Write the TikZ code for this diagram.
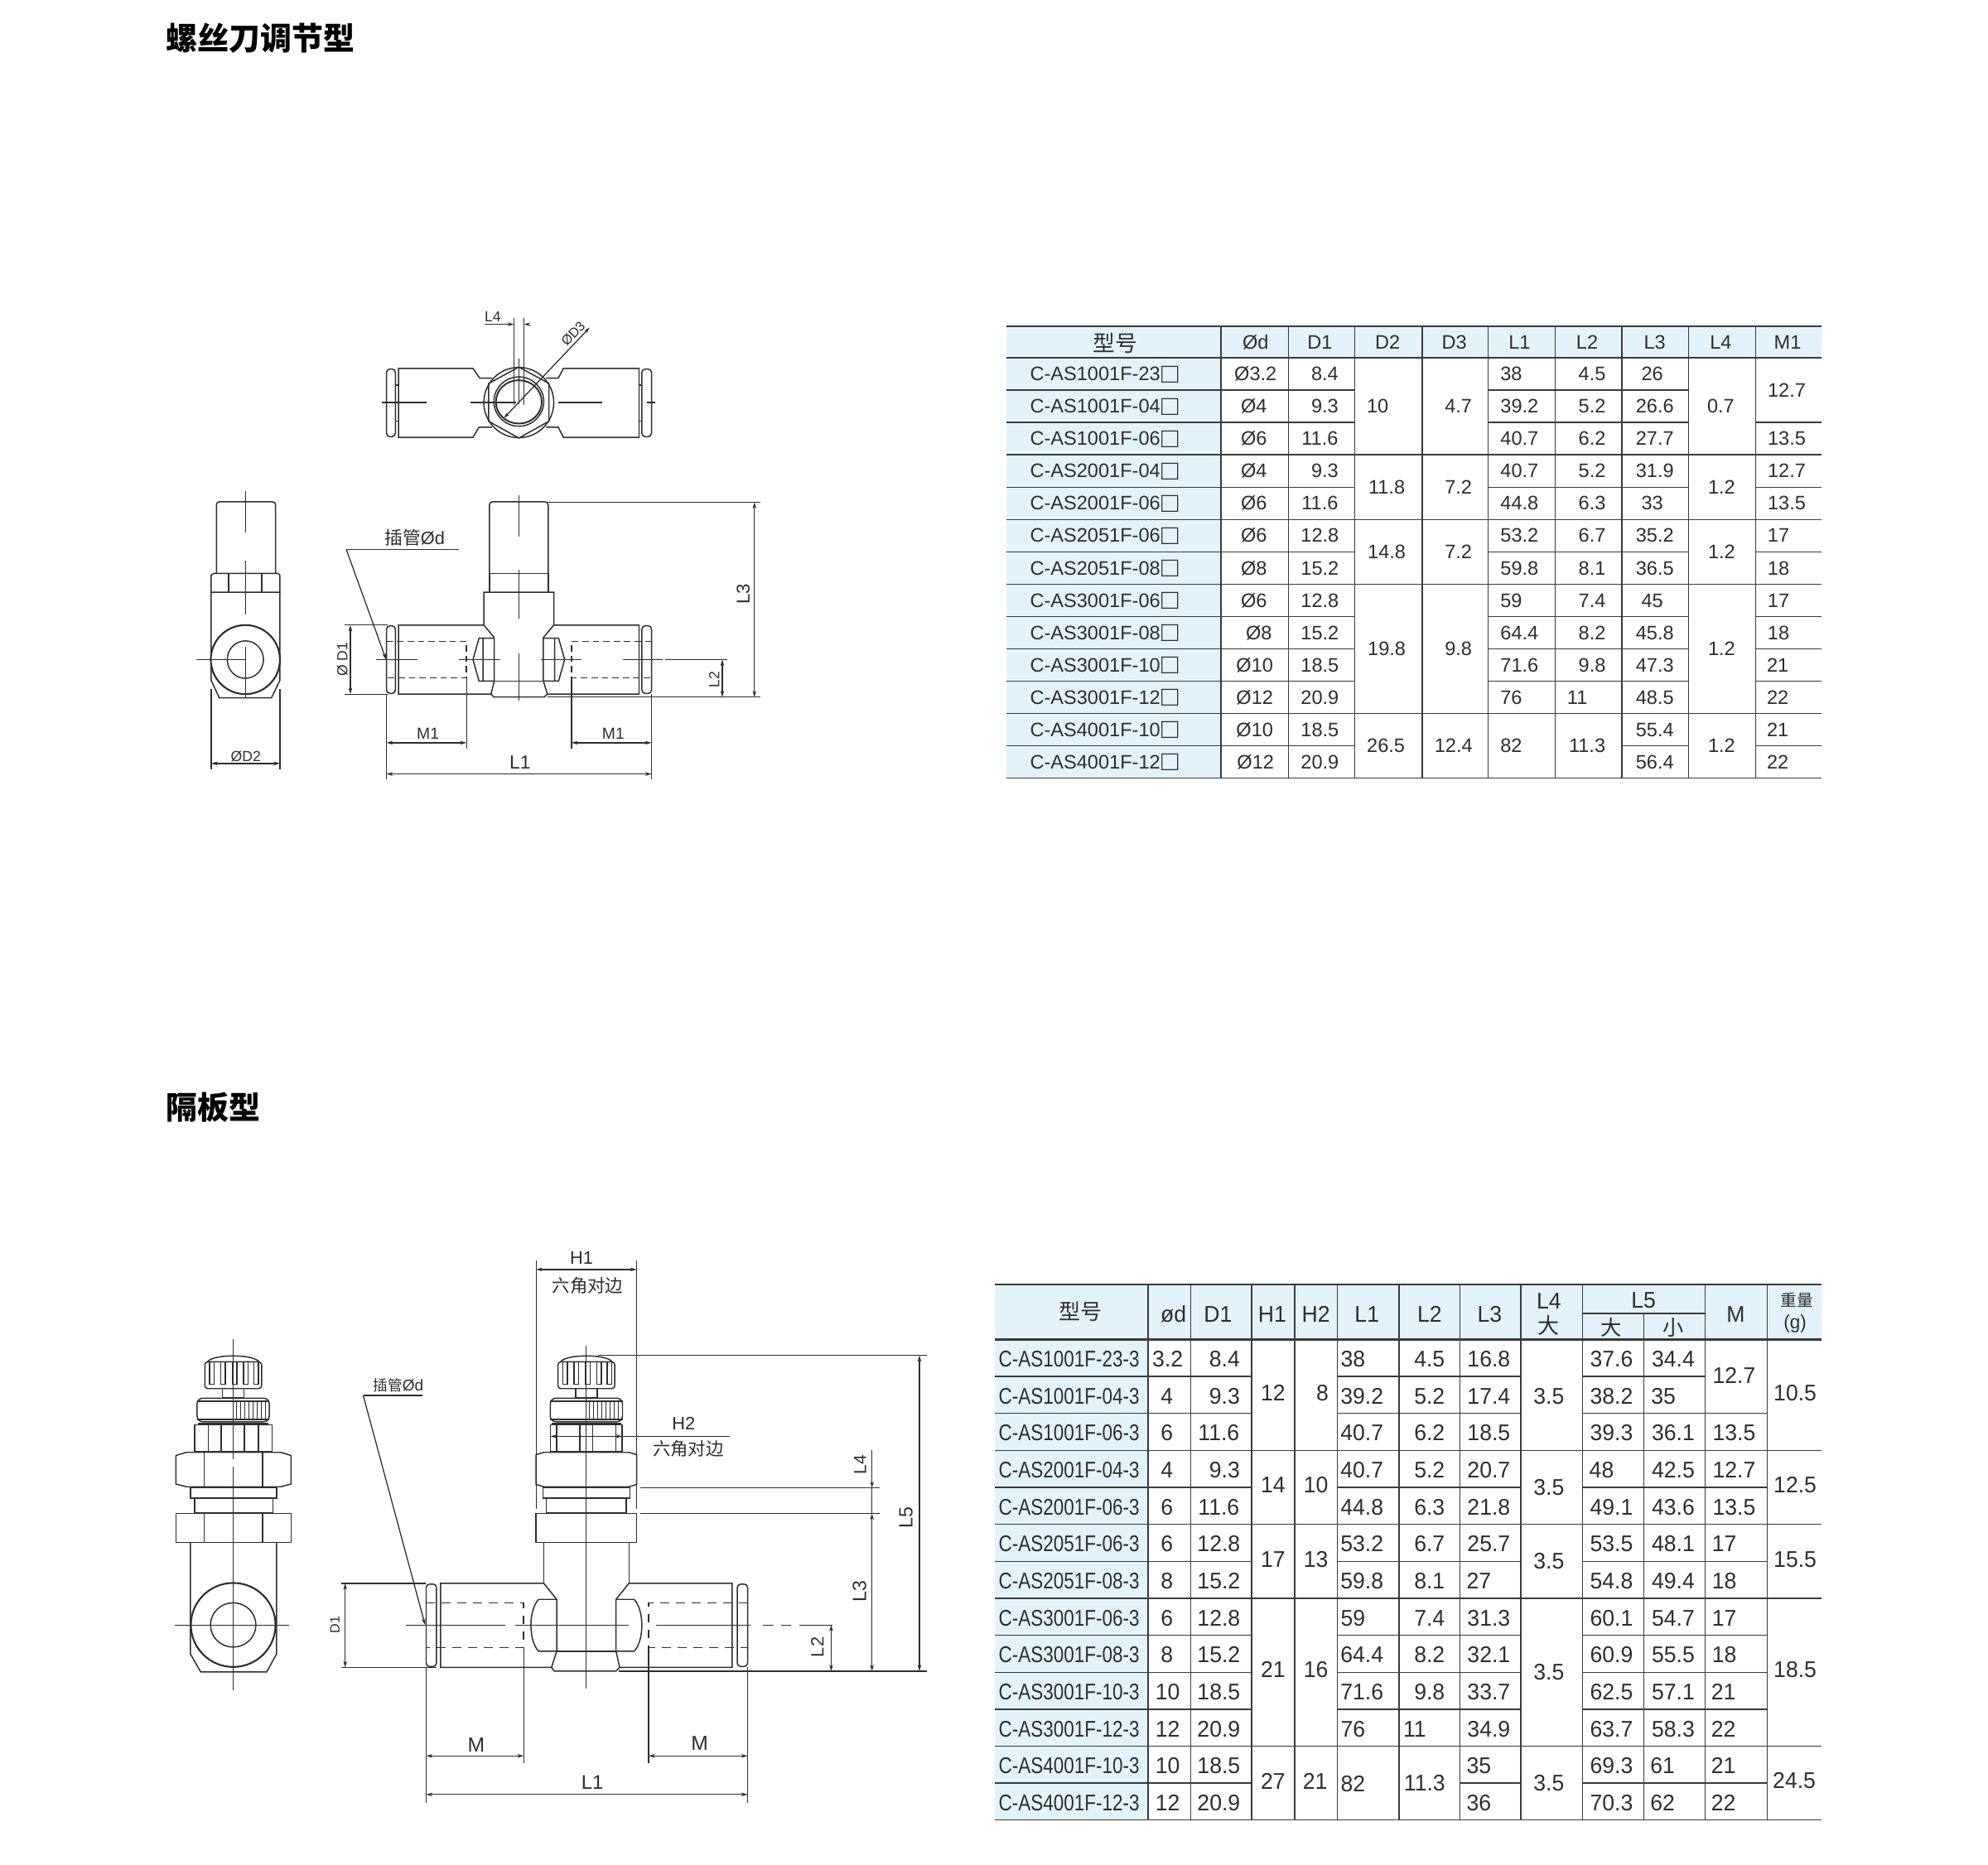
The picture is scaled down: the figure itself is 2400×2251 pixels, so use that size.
\documentclass[tikz,border=0pt]{standalone}
\usepackage{fontspec}
\usetikzlibrary{arrows.meta}
\setmainfont{Liberation Sans}
\newfontfamily\cjk{Noto Sans CJK SC}
\newfontfamily\narrowf[FakeStretch=0.82]{Liberation Sans}
\newfontfamily\numf[FakeStretch=0.97]{Liberation Sans}
\definecolor{hdr}{HTML}{E3F3FB}
\definecolor{ink}{HTML}{2E2E2E}
\definecolor{tl}{HTML}{3A3A3A}
\tikzset{
 dl/.style={draw=ink,line width=0.42pt},
 cl/.style={draw=ink,line width=0.36pt},
 dm/.style={draw=ink,line width=0.36pt},
 dimarr/.style={draw=ink,line width=0.36pt,{Stealth[length=2.2pt,width=1.3pt]}-{Stealth[length=2.2pt,width=1.3pt]}},
 onearr/.style={draw=ink,line width=0.36pt,-{Stealth[length=2.2pt,width=1.3pt]}},
 dsh/.style={draw=ink,line width=0.42pt,dash pattern=on 2.2pt off 1.4pt},
 dshb/.style={draw=ink,line width=0.42pt,dash pattern=on 3pt off 2.4pt},
 tx/.style={inner sep=0pt,text=ink},
 tca/.style={inner sep=0pt,text=ink,font=\fontsize{6.7}{7}\selectfont,text height=4.8pt,text depth=0pt},
 tcb/.style={inner sep=0pt,text=ink,font=\numf\fontsize{7.8}{8}\selectfont,text height=5.6pt,text depth=0pt},
 tcm/.style={inner sep=0pt,text=ink,font=\narrowf\fontsize{7.8}{8}\selectfont,text height=5.6pt,text depth=0pt},
 tline/.style={draw=tl,line width=0.4pt},
 tthick/.style={draw=tl,line width=0.75pt},
}
\newcommand\colA[2]{\foreach \r/\x/\t in {#2} \node[tca] (ta#1-\r) at (\x,{432+39.1*(\r-.5)}) {\t};}
\newcommand\colB[2]{\foreach \r/\x/\t in {#2} \node[tcb] (tb#1-\r) at (\x,{1618.6+44.7*(\r-.5)}) {\t};}
\newcommand\bigbox{\kern0.4pt\raisebox{-0.7pt}{\fontsize{9.6}{9}\selectfont □}}
\newcommand\knobpart[1]{\begin{scope}[shift={(#1,0)}]
 \draw[dl,rounded corners=1pt] (-55,335) rectangle (55,405);
 \draw[dl] (-50,335) .. controls (-40,314) and (40,314) .. (50,335);
 \foreach \s in {-46,-24,-2,20,40} \draw[dl] (\s,337) -- (\s,394) -- (\s+9,394) -- (\s+9,337);
 \draw[dl] (-21,405) rectangle (21,428);
 \draw[dl,rounded corners=2pt] (-70,430) rectangle (70,492);
 \draw[dl] (-70,438) -- (70,438) (-70,486) -- (70,486) (-68,497) -- (68,497);
 \foreach \h in {6,14,...,62} \draw[cl] (\h,438) -- (\h,486);
\end{scope}}
\begin{document}
\begin{tikzpicture}[x=0.01cm,y=-0.01cm]
\useasboundingbox (0,0) rectangle (2400,2251);
\fill[white] (0,0) rectangle (2400,2251);
% titles
\node[tx,anchor=west,text=black,font=\cjk\bfseries\fontsize{10.8}{12}\selectfont] (t1) at (200,46) {螺丝刀调节型};
\node[tx,anchor=west,text=black,font=\cjk\bfseries\fontsize{10.8}{12}\selectfont] (t2) at (200,1337) {隔板型};

% ---------- TABLE 1
\begin{scope}[shift={(1215,394)},xscale=0.9958,yscale=0.998,shift={(-1215,-394)}]
\fill[hdr] (1215,394) rectangle (2203,432);
\fill[hdr] (1215,432) rectangle (1475,941);
\foreach \x in {1475,1557,1637,1719,1799,1880,1961,2042,2123} \draw[tline] (\x,394) -- (\x,941);
\draw[tthick] (1215,394) -- (2203,394);
\draw[tthick] (1215,432) -- (2203,432);
\foreach \y in {549.5,627.7,705.9,862.3,940.5} \draw[tline] (1215,\y) -- (2203,\y);
\foreach \y in {471.1,588.6,666.8,745,784.1,823.2} \draw[tline] (1215,\y) -- (1637,\y) (1799,\y) -- (2042,\y);
\draw[tline] (1215,510.2) -- (1637,510.2) (1799,510.2) -- (2042,510.2) (2123,510.2) -- (2203,510.2);
\foreach \y in {588.6,666.8,745,784.1,823.2} \draw[tline] (2123,\y) -- (2203,\y);
\draw[tline] (1215,901.4) -- (1637,901.4) (1961,901.4) -- (2042,901.4) (2123,901.4) -- (2203,901.4);
% table 1 header
\node[tx,font=\cjk\fontsize{7.6}{8}\selectfont] (ah0) at (1347,414) {型号};
\foreach \x/\t [count=\i] in {1517/Ød,1595/D1,1677/D2,1758/D3,1837/L1,1919/L2,2001/L3,2081/L4,2162/M1}
 \node[tca] (ah\i) at (\x,413) {\t};
\foreach \n [count=\r] in {1001F-23,1001F-04,1001F-06,2001F-04,2001F-06,2051F-06,2051F-08,3001F-06,3001F-08,3001F-10,3001F-12,4001F-10,4001F-12}
 \node[tca,anchor=west] (am\r) at (1243,{432+39.1*(\r-.5)}) {C-AS\n\bigbox};
\colA{d}{1/1517/Ø3.2,2/1515/Ø4,3/1515/Ø6,4/1515/Ø4,5/1515/Ø6,6/1515/Ø6,7/1515/Ø8,8/1515/Ø6,9/1521/Ø8,10/1516/Ø10,11/1516/Ø12,12/1516/Ø10,13/1517/Ø12}
\colA{e}{1/1601/8.4,2/1601/9.3,3/1595/11.6,4/1601/9.3,5/1595/11.6,6/1595/12.8,7/1595/15.2,8/1595/12.8,9/1595/15.2,10/1595/18.5,11/1595/20.9,12/1595/18.5,13/1595/20.9}
\colA{f}{2/1665/10,4.5/1676/11.8,6.5/1676/14.8,9.5/1676/19.8,12.5/1675/26.5}
\colA{g}{2/1763/4.7,4.5/1763/7.2,6.5/1763/7.2,9.5/1763/9.8,12.5/1757/12.4}
\colA{h}{1/1827/38,2/1837/39.2,3/1837/40.7,4/1837/40.7,5/1837/44.8,6/1837/53.2,7/1837/59.8,8/1827/59,9/1837/64.4,10/1837/71.6,11/1827/76,12.5/1827/82}
\colA{i}{1/1925/4.5,2/1925/5.2,3/1925/6.2,4/1925/5.2,5/1925/6.3,6/1925/6.7,7/1925/8.1,8/1925/7.4,9/1925/8.2,10/1925/9.8,11/1907/11,12.5/1919/11.3}
\colA{j}{1/1998/26,2/2001/26.6,3/2001/27.7,4/2001/31.9,5/1998/33,6/2001/35.2,7/2001/36.5,8/1998/45,9/2001/45.8,10/2001/47.3,11/2001/48.5,12/2001/55.4,13/2001/56.4}
\colA{k}{2/2081/0.7,4.5/2082/1.2,6.5/2082/1.2,9.5/2082/1.2,12.5/2082/1.2}
\colA{l}{1.5/2161/12.7,3/2161/13.5,4/2161/12.7,5/2161/13.5,6/2151/17,7/2151/18,8/2151/17,9/2151/18,10/2150/21,11/2150/22,12/2150/21,13/2150/22}
\end{scope}

% ---------- TABLE 2
\begin{scope}[shift={(1201,1551)},xscale=0.9939,yscale=0.9985,shift={(-1201,-1551)}]
\fill[hdr] (1201,1551) rectangle (2205,1617.6);
\fill[hdr] (1201,1617.6) rectangle (1387,2199);
\foreach \x in {1387,1439,1513,1565,1617,1692,1766,1840,1915,2064,2139} \draw[tline] (\x,1551) -- (\x,2199);
\draw[tline] (1989,1586) -- (1989,2199);
\draw[tline] (1915,1586) -- (2064,1586);
\draw[tthick] (1201,1551) -- (2205,1551);
\draw[tthick] (1201,1617.6) -- (2205,1617.6);
\foreach \y in {1751.7,1841.1,1930.5,2109.3,2198.7} \draw[tline] (1201,\y) -- (2205,\y);
\foreach \y in {1662.3,1707,1796.4,1885.8,1975.2,2019.9,2064.6}
 \draw[tline] (1201,\y) -- (1513,\y) (1617,\y) -- (1840,\y);
\draw[tline] (1915,1662.3) -- (2064,1662.3);
\foreach \y in {1707,1796.4,1885.8,1975.2,2019.9,2064.6} \draw[tline] (1915,\y) -- (2139,\y);
\draw[tline] (1201,2154) -- (1513,2154) (1766,2154) -- (1840,2154) (1915,2154) -- (2139,2154);
% table 2 header
\node[tx,font=\cjk\fontsize{7.4}{8}\selectfont] (bh0) at (1305,1584) {型号};
\foreach \x/\t [count=\i] in {1418/ød,1472/D1,1538/H1,1591/H2,1653/L1,1729/L2,1802/L3,2101/M}
 \node[tcb] (bh\i) at (\x,1587) {\t};
\node[tcb] (bh9) at (1874,1571) {L4};
\node[tx,font=\cjk\fontsize{7.4}{8}\selectfont] (bh10) at (1874,1601) {大};
\node[tcb] (bh11) at (1989,1570) {L5};
\node[tx,font=\cjk\fontsize{7.2}{8}\selectfont] (bh12) at (1950,1603) {大};
\node[tx,font=\cjk\fontsize{7.2}{8}\selectfont] (bh13) at (2025,1603) {小};
\node[tx,font=\cjk\fontsize{5.6}{6}\selectfont] (bh14) at (2175,1570) {重量};
\node[tx,font=\numf\fontsize{6.6}{7}\selectfont] (bh15) at (2173,1599) {(g)};
\foreach \n [count=\r] in {1001F-23,1001F-04,1001F-06,2001F-04,2001F-06,2051F-06,2051F-08,3001F-06,3001F-08,3001F-10,3001F-12,4001F-10,4001F-12}
 \node[tcm,anchor=west] (bm\r) at (1205,{1618.6+44.7*(\r-.5)}) {C-AS\n-3};
\colB{d}{1/1411/3.2,2/1410/4,3/1410/6,4/1410/4,5/1410/6,6/1410/6,7/1410/8,8/1410/6,9/1410/8,10/1411/10,11/1411/12,12/1411/10,13/1411/12}
\colB{e}{1/1480/8.4,2/1480/9.3,3/1473/11.6,4/1480/9.3,5/1473/11.6,6/1473/12.8,7/1473/15.2,8/1473/12.8,9/1473/15.2,10/1473/18.5,11/1473/20.9,12/1473/18.5,13/1473/20.9}
\colB{f}{1.92/1539/12,4.4/1539/14,6.42/1539/17,9.4/1539/21,12.42/1539/27}
\colB{g}{1.92/1599/8,4.4/1591/10,6.42/1591/13,9.4/1591/16,12.42/1590/21}
\colB{h}{1/1636/38,2/1647/39.2,3/1647/40.7,4/1647/40.7,5/1647/44.8,6/1647/53.2,7/1647/59.8,8/1636/59,9/1647/64.4,10/1647/71.6,11/1636/76,12.5/1636/82}
\colB{i}{1/1729/4.5,2/1729/5.2,3/1729/6.2,4/1729/5.2,5/1729/6.3,6/1729/6.7,7/1729/8.1,8/1729/7.4,9/1729/8.2,10/1729/9.8,11/1711/11,12.46/1723/11.3}
\colB{j}{1/1801/16.8,2/1801/17.4,3/1801/18.5,4/1801/20.7,5/1801/21.8,6/1801/25.7,7/1789/27,8/1801/31.3,9/1801/32.1,10/1801/33.7,11/1801/34.9,12/1789/35,13/1789/36}
\colB{k}{2/1874/3.5,4.46/1874/3.5,6.46/1874/3.5,9.46/1874/3.5,12.46/1874/3.5}
\colB{m}{1/1950/37.6,2/1950/38.2,3/1950/39.3,4/1938/48,5/1950/49.1,6/1950/53.5,7/1950/54.8,8/1950/60.1,9/1950/60.9,10/1950/62.5,11/1950/63.7,12/1950/69.3,13/1950/70.3}
\colB{n}{1/2025/34.4,2/2013/35,3/2025/36.1,4/2025/42.5,5/2025/43.6,6/2025/48.1,7/2025/49.4,8/2025/54.7,9/2025/55.5,10/2025/57.1,11/2025/58.3,12/2012/61,13/2012/62}
\colB{o}{1.45/2099/12.7,3/2099/13.5,4/2099/12.7,5/2099/13.5,6/2087/17,7/2087/18,8/2087/17,9/2087/18,10/2086/21,11/2086/22,12/2086/21,13/2086/22}
\colB{p}{1.92/2173/10.5,4.4/2173/12.5,6.42/2173/15.5,9.4/2173/18.5,12.4/2172/24.5}
\end{scope}

% ---------- DRAWING A (coordinates in zoom space)
\begin{scope}[shift={(220,340)},x=0.004852cm,y=-0.00396cm]
 % top view
 \draw[dl] (770,294) -- (740,294) -- (723,264) -- (538,264) -- (538,474) -- (723,474) -- (738,443) -- (770,443);
 \draw[dl] (905,294) -- (935,294) -- (948,264) -- (1136,264) -- (1136,474) -- (948,474) -- (935,443) -- (905,443);
 \draw[dl,rounded corners=1.2pt] (508,266) rectangle (530,472);
 \draw[dl,rounded corners=1.2pt] (1143,266) rectangle (1167,472);
 \draw[cl] (530,315) -- (538,315) (530,425) -- (538,425) (1136,315) -- (1143,315) (1136,425) -- (1143,425);
 \filldraw[dl,fill=white] (837,368) ellipse [x radius=87,y radius=107];
 \draw[dl] (837,260) -- (912,310) -- (912,425) -- (837,476) -- (762,425) -- (762,310) -- cycle;
 \draw[dl] (837,365) ellipse [x radius=62,y radius=75];
 \draw[dl,line width=0.55pt] (837,366) ellipse [x radius=57,y radius=66];
 \draw[cl] (497,368) -- (607,368) (717,368) -- (830,368) (935,368) -- (1045,368) (1155,368) -- (1177,368) (837,235) -- (837,372);
 \draw[cl] (825,110) -- (825,375) (850,110) -- (850,375);
 \draw[cl,{Stealth[length=2pt,width=1.2pt]}-{Stealth[length=2pt,width=1.2pt]}] (1013,140) -- (800,415);
 \draw[onearr] (752,130) -- (825,130);
 \draw[onearr] (858,130) -- (850,130);
 \node[tx,font=\fontsize{5}{6}\selectfont] (la4) at (772,108) {L4};
 \node[tx,font=\fontsize{4.6}{6}\selectfont,rotate=46] (lad3) at (972,158) {ØD3};
 % side view
 \draw[dl,rounded corners=1pt] (85,888) -- (85,670) -- (232,670) -- (232,888);
 \draw[dl] (78,888) -- (238,888) -- (243,893) -- (243,945) -- (72,945) -- (72,893) -- cycle;
 \draw[dl] (115,890) -- (115,945) (198,890) -- (198,945);
 \draw[dl] (72,945) -- (72,1213) -- (92,1266) -- (222,1266) -- (243,1213) -- (243,945);
 \filldraw[dl,fill=white,line width=0.6pt] (157,1150) ellipse [x radius=86,y radius=105];
 \draw[dl] (157,1150) ellipse [x radius=45,y radius=57];
 \draw[cl] (157,637) -- (157,763) (157,850) -- (157,1013) (157,1110) -- (157,1265) (35,1150) -- (157,1150);
 \draw[dm] (72,1240) -- (72,1485) (243,1240) -- (243,1485);
 \draw[dimarr] (72,1466) -- (243,1466);
 \node[tx,font=\fontsize{5}{6}\selectfont] (lad2) at (158,1445) {ØD2};
 % main view
 \draw[dl,rounded corners=1pt] (764,888) -- (764,670) -- (910,670) -- (910,888);
 \draw[dl] (764,888) -- (910,888) (764,888) -- (764,945) (910,888) -- (910,945);
 \draw[dl] (538,1045) -- (750,1045) -- (750,945) -- (924,945) -- (924,1045) -- (1136,1045) -- (1136,1255) -- (908,1255) -- (900,1264) -- (775,1264) -- (768,1255) -- (538,1255) -- cycle;
 \draw[dl] (750,1045) -- (776,1083) -- (776,1215) -- (768,1255) (924,1045) -- (898,1083) -- (898,1215) -- (908,1255);
 \draw[dl,rounded corners=1.2pt] (508,1047) rectangle (530,1253);
 \draw[dl,rounded corners=1.2pt] (1143,1047) rectangle (1167,1253);
 \draw[dsh] (508,1094) -- (707,1094) -- (707,1205) -- (508,1205);
 \draw[dsh] (1167,1094) -- (968,1094) -- (968,1205) -- (1167,1205);
 \draw[dl] (776,1085) -- (738,1085) -- (723,1150) -- (738,1215) -- (776,1215) (748,1085) -- (748,1215);
 \draw[dl] (898,1085) -- (936,1085) -- (951,1150) -- (936,1215) -- (898,1215) (926,1085) -- (926,1215);
 \draw[dl] (776,1215) -- (898,1215);
 \draw[cl] (483,1150) -- (585,1150) (687,1150) -- (790,1150) (892,1150) -- (993,1150) (1096,1150) -- (1195,1150) (1200,1150) -- (1355,1150);
 \draw[cl] (837,650) -- (837,775) (837,877) -- (837,1025) (837,1130) -- (837,1275);
 \draw[dm] (910,671.2) -- (1438,671.2) (908,1264) -- (1438,1264);
 \draw[dimarr] (1423,671.2) -- (1423,1264);
 \draw[dimarr] (1343,1150) -- (1343,1264);
 \draw[dm] (403,1045) -- (510,1045) (403,1255) -- (510,1255);
 \draw[dimarr] (418,1045) -- (418,1255);
 \draw[dm] (508,1255) -- (508,1515) (1167,1255) -- (1167,1515) (707,1205) -- (707,1420) (968,1205) -- (968,1420);
 \draw[dimarr] (508,1403) -- (707,1403);
 \draw[dimarr] (968,1403) -- (1167,1403);
 \draw[dimarr] (508,1498) -- (1167,1498);
 \coordinate (laa) at (408,815);
 \coordinate (lab) at (688,815);
 \coordinate (lac) at (507,1150);
 \draw[dm] (lab) -- (laa);
 \draw[onearr] (laa) -- (lac);
 \node[tx,font=\fontsize{6.3}{7}\selectfont,rotate=90] (la3) at (1395,950) {L3};
 \node[tx,font=\fontsize{5}{6}\selectfont,rotate=90] (la2) at (1323,1210) {L2};
 \node[tx,font=\fontsize{5}{6}\selectfont,rotate=90] (lad1) at (398,1150) {Ø D1};
 \node[tx,font=\fontsize{5.5}{6}\selectfont] (lam1) at (611,1376) {M1};
 \node[tx,font=\fontsize{5.5}{6}\selectfont] (lam2) at (1072,1374) {M1};
 \node[tx,font=\fontsize{6.5}{7}\selectfont] (la1) at (840,1463) {L1};
 \node[tx,font=\fontsize{6.2}{6}\selectfont] (lat) at (578,780) {{\cjk 插管}Ød};
\end{scope}

% ---------- DRAWING B
\begin{scope}[shift={(180,1490)},x=0.00623cm,y=-0.004615cm]
 % left view
 \knobpart{163}
 \draw[dl] (88,500) rectangle (238,570);
 \draw[dl] (115,500) -- (115,570) (140,500) -- (140,570) (185,500) -- (185,570) (212,500) -- (212,570);
 \draw[dl] (52,580) -- (72,572) -- (255,572) -- (275,580) -- (275,655) -- (255,662) -- (72,662) -- (52,655) -- cycle;
 \draw[dl] (107,572) -- (107,662) (220,572) -- (220,662);
 \draw[dl] (80,665) rectangle (247,692);
 \draw[dl] (88,692) rectangle (240,730);
 \draw[dl] (52,732) rectangle (275,808);
 \draw[dl] (107,732) -- (107,808) (220,732) -- (220,808);
 \draw[dl] (80,808) -- (80,1100) -- (100,1147) -- (228,1147) -- (247,1100) -- (247,808);
 \filldraw[dl,fill=white,line width=0.6pt] (163,1024) ellipse [x radius=82,y radius=110];
 \draw[dl] (163,1024) ellipse [x radius=44,y radius=58];
 \draw[cl] (163,275) -- (163,590) (163,610) -- (163,1195);
 \draw[cl] (50,1024) -- (272,1024);
 % main view
 \knobpart{847.5}
 \draw[dl] (778,500) rectangle (917,570);
 \draw[dl] (790,500) -- (790,570) (905,500) -- (905,570) (835,500) -- (835,570) (860,500) -- (860,570);
 \draw[dl] (750,578) -- (765,572) -- (930,572) -- (945,578) -- (945,656) -- (930,662) -- (765,662) -- (750,656) -- cycle;
 \draw[dl] (763,665) rectangle (932,692);
 \draw[dl] (770,692) rectangle (925,730);
 \draw[dl] (750,732) rectangle (945,808);
 \draw[dl] (765,808) -- (765,915) (930,808) -- (930,915);
 \draw[dl] (565,915) -- (1130,915) -- (1130,1135) -- (912,1135) -- (905,1145) -- (785,1145) -- (780,1135) -- (565,1135) -- cycle;
 \fill[white] (766,914) rectangle (929,925);
 \draw[dl] (765,915) -- (790,957) -- (790,1093) -- (780,1135) (930,915) -- (905,957) -- (905,1093) -- (912,1135);
 \draw[dl] (790,1093) -- (905,1093);
 \draw[dl,rounded corners=1.2pt] (537,917) rectangle (557,1133);
 \draw[dl,rounded corners=1.2pt] (1140,917) rectangle (1160,1133);
 \draw[dshb] (537,966) -- (726,966) -- (726,1083) -- (537,1083);
 \draw[dshb] (1160,966) -- (968,966) -- (968,1083) -- (1160,1083);
 \draw[dl] (790,957) -- (755,957) .. controls (735,985) and (735,1065) .. (755,1093) -- (790,1093);
 \draw[dl] (905,957) -- (940,957) .. controls (960,985) and (960,1065) .. (940,1093) -- (905,1093);
 \draw[cl] (497,1024) -- (690,1024) (710,1024) -- (930,1024) (983,1024) -- (1165,1024) (1190,1024) -- (1210,1024) (1225,1024) -- (1245,1024) (1260,1024) -- (1325,1024);
 \draw[cl] (847,293) -- (847,1190);
 % dimensions
 \draw[dm] (750,70) -- (750,720) (945,70) -- (945,720);
 \draw[dimarr] (750,93) -- (945,93);
 \draw[dm] (917,530) -- (1125,530);
 \draw[dimarr] (778,530) -- (917,530);
 \draw[dm] (870,318) -- (1508,318);
 \draw[dm,line width=0.55pt] (910,1145) -- (1508,1145);
 \draw[dimarr] (1493,318) -- (1493,1145);
 \draw[dm] (952,665) -- (1416,665);
 \draw[dm,line width=0.55pt] (952,732) -- (1416,732);
 \draw[onearr] (1401,565) -- (1401,665);
 \draw[dm] (1401,665) -- (1401,732);
 \draw[dimarr] (1401,732) -- (1401,1145);
 \draw[dimarr] (1322,1024) -- (1322,1145);
 \draw[dm] (373,915) -- (537,915) (373,1135) -- (557,1135);
 \draw[dimarr] (380,915) -- (380,1135);
 \draw[dm] (537,1135) -- (537,1490) (1160,1135) -- (1160,1490) (726,1083) -- (726,1385) (968,1083) -- (968,1385);
 \draw[dimarr] (537,1367) -- (726,1367);
 \draw[dimarr] (968,1367) -- (1160,1367);
 \draw[dimarr] (537,1468) -- (1160,1468);
 \coordinate (lba) at (415,423);
 \coordinate (lbb) at (530,423);
 \coordinate (lbc) at (535,1024);
 \draw[dm] (lbb) -- (lba);
 \draw[onearr] (lba) -- (lbc);
 \node[tx,font=\fontsize{5.4}{6}\selectfont] (lbt) at (483,397) {{\cjk\fontsize{5}{6}\selectfont 插管}Ød};
 \node[tx,font=\fontsize{6.2}{7}\selectfont] (lbh1) at (838,62) {H1};
 \node[tx,font=\cjk\fontsize{6.1}{7}\selectfont] (lbh1c) at (850,135) {六角对边};
 \node[tx,font=\fontsize{6.2}{7}\selectfont] (lbh2) at (1036,497) {H2};
 \node[tx,font=\cjk\fontsize{6.1}{7}\selectfont] (lbh2c) at (1045,563) {六角对边};
 \node[tx,font=\fontsize{6.6}{7}\selectfont,rotate=90] (lb5) at (1467,742) {L5};
 \node[tx,font=\fontsize{6}{7}\selectfont,rotate=90] (lb4) at (1378,605) {L4};
 \node[tx,font=\fontsize{6.6}{7}\selectfont,rotate=90] (lb3) at (1377,935) {L3};
 \node[tx,font=\fontsize{6.2}{7}\selectfont,rotate=90] (lb2) at (1295,1082) {L2};
 \node[tx,font=\fontsize{4.6}{6}\selectfont,rotate=90] (lbd1) at (360,1024) {D1};
 \node[tx,font=\fontsize{7}{8}\selectfont] (lbm1) at (634,1338) {M};
 \node[tx,font=\fontsize{7}{8}\selectfont] (lbm2) at (1067,1333) {M};
 \node[tx,font=\fontsize{6.8}{8}\selectfont] (lb1) at (859,1436) {L1};
\end{scope}
\end{tikzpicture}
\end{document}
